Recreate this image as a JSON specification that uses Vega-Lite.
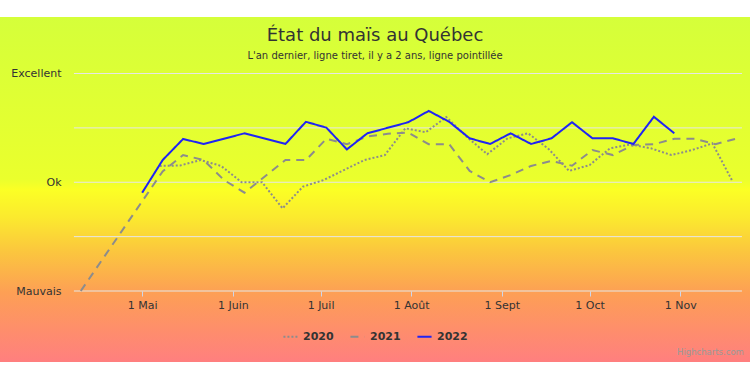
{
  "$schema": "https://vega.github.io/schema/vega-lite/v6.json",
  "width": 750,
  "height": 345,
  "autosize": {"type": "none"},
  "padding": {"top": 17, "bottom": 11, "left": 0, "right": 0},
  "background": "white",
  "view": {
    "stroke": null,
    "fill": {
      "gradient": "linear", "x1": 0, "y1": 0, "x2": 0, "y2": 1,
      "stops": [
        {"offset": 0, "color": "#d5ff3a"},
        {"offset": 0.47, "color": "#eaff2d"},
        {"offset": 0.5, "color": "#fbff25"},
        {"offset": 0.58, "color": "#fbea2e"},
        {"offset": 0.68, "color": "#fbc63e"},
        {"offset": 0.8, "color": "#fd9f55"},
        {"offset": 1, "color": "#ff7f7f"}
      ]
    }
  },
  "title": {
    "text": "État du maïs au Québec",
    "subtitle": "L'an dernier, ligne tiret, il y a 2 ans, ligne pointillée",
    "frame": "group",
    "anchor": "middle",
    "offset": -44,
    "font": "DejaVu Sans",
    "fontSize": 18,
    "fontWeight": "normal",
    "color": "#333333",
    "subtitleFont": "DejaVu Sans",
    "subtitleFontSize": 10,
    "subtitleColor": "#333333",
    "subtitlePadding": 6
  },
  "datasets": {
    "grille": [
      {"etat": 0}, {"etat": 25}, {"etat": 50}, {"etat": 75}, {"etat": 100}
    ],
    "series": [
      {"annee": "2020", "date": "2022-05-07", "etat": 57.5},
      {"annee": "2020", "date": "2022-05-14", "etat": 57.7},
      {"annee": "2020", "date": "2022-05-21", "etat": 60.2},
      {"annee": "2020", "date": "2022-05-28", "etat": 57.5},
      {"annee": "2020", "date": "2022-06-04", "etat": 50},
      {"annee": "2020", "date": "2022-06-11", "etat": 50},
      {"annee": "2020", "date": "2022-06-18", "etat": 38},
      {"annee": "2020", "date": "2022-06-25", "etat": 48},
      {"annee": "2020", "date": "2022-07-02", "etat": 51},
      {"annee": "2020", "date": "2022-07-09", "etat": 55.6},
      {"annee": "2020", "date": "2022-07-16", "etat": 60.2},
      {"annee": "2020", "date": "2022-07-23", "etat": 62.5},
      {"annee": "2020", "date": "2022-07-30", "etat": 74.8},
      {"annee": "2020", "date": "2022-08-06", "etat": 73},
      {"annee": "2020", "date": "2022-08-13", "etat": 80},
      {"annee": "2020", "date": "2022-08-20", "etat": 70.9},
      {"annee": "2020", "date": "2022-08-27", "etat": 62.9},
      {"annee": "2020", "date": "2022-09-03", "etat": 70.2},
      {"annee": "2020", "date": "2022-09-10", "etat": 72.5},
      {"annee": "2020", "date": "2022-09-17", "etat": 65.3},
      {"annee": "2020", "date": "2022-09-24", "etat": 55.2},
      {"annee": "2020", "date": "2022-10-01", "etat": 57.9},
      {"annee": "2020", "date": "2022-10-08", "etat": 65.6},
      {"annee": "2020", "date": "2022-10-15", "etat": 67.4},
      {"annee": "2020", "date": "2022-10-22", "etat": 65.6},
      {"annee": "2020", "date": "2022-10-29", "etat": 62.5},
      {"annee": "2020", "date": "2022-11-05", "etat": 64.8},
      {"annee": "2020", "date": "2022-11-12", "etat": 67.9},
      {"annee": "2020", "date": "2022-11-19", "etat": 50.2},
      {"annee": "2021", "date": "2022-04-10", "etat": 0},
      {"annee": "2021", "date": "2022-05-08", "etat": 55},
      {"annee": "2021", "date": "2022-05-15", "etat": 62.5},
      {"annee": "2021", "date": "2022-05-22", "etat": 60.2},
      {"annee": "2021", "date": "2022-05-29", "etat": 51},
      {"annee": "2021", "date": "2022-06-05", "etat": 45.2},
      {"annee": "2021", "date": "2022-06-19", "etat": 60.2},
      {"annee": "2021", "date": "2022-06-26", "etat": 60.2},
      {"annee": "2021", "date": "2022-07-03", "etat": 70},
      {"annee": "2021", "date": "2022-07-10", "etat": 67.5},
      {"annee": "2021", "date": "2022-07-17", "etat": 71},
      {"annee": "2021", "date": "2022-07-24", "etat": 72.3},
      {"annee": "2021", "date": "2022-07-31", "etat": 72.8},
      {"annee": "2021", "date": "2022-08-07", "etat": 67.5},
      {"annee": "2021", "date": "2022-08-14", "etat": 67.5},
      {"annee": "2021", "date": "2022-08-21", "etat": 55.2},
      {"annee": "2021", "date": "2022-08-28", "etat": 50},
      {"annee": "2021", "date": "2022-09-04", "etat": 53.3},
      {"annee": "2021", "date": "2022-09-11", "etat": 57.5},
      {"annee": "2021", "date": "2022-09-18", "etat": 59.8},
      {"annee": "2021", "date": "2022-09-25", "etat": 57.6},
      {"annee": "2021", "date": "2022-10-02", "etat": 64.8},
      {"annee": "2021", "date": "2022-10-09", "etat": 62.5},
      {"annee": "2021", "date": "2022-10-16", "etat": 67.1},
      {"annee": "2021", "date": "2022-10-23", "etat": 67.5},
      {"annee": "2021", "date": "2022-10-30", "etat": 70},
      {"annee": "2021", "date": "2022-11-06", "etat": 70},
      {"annee": "2021", "date": "2022-11-13", "etat": 67.5},
      {"annee": "2021", "date": "2022-11-20", "etat": 70},
      {"annee": "2022", "date": "2022-05-01", "etat": 45.2},
      {"annee": "2022", "date": "2022-05-08", "etat": 60.2},
      {"annee": "2022", "date": "2022-05-15", "etat": 69.9},
      {"annee": "2022", "date": "2022-05-22", "etat": 67.6},
      {"annee": "2022", "date": "2022-06-05", "etat": 72.5},
      {"annee": "2022", "date": "2022-06-19", "etat": 67.6},
      {"annee": "2022", "date": "2022-06-26", "etat": 77.8},
      {"annee": "2022", "date": "2022-07-03", "etat": 75.1},
      {"annee": "2022", "date": "2022-07-10", "etat": 65.1},
      {"annee": "2022", "date": "2022-07-17", "etat": 72.5},
      {"annee": "2022", "date": "2022-07-31", "etat": 77.6},
      {"annee": "2022", "date": "2022-08-07", "etat": 82.8},
      {"annee": "2022", "date": "2022-08-14", "etat": 77.8},
      {"annee": "2022", "date": "2022-08-21", "etat": 70.2},
      {"annee": "2022", "date": "2022-08-28", "etat": 67.6},
      {"annee": "2022", "date": "2022-09-04", "etat": 72.5},
      {"annee": "2022", "date": "2022-09-11", "etat": 67.6},
      {"annee": "2022", "date": "2022-09-18", "etat": 70.2},
      {"annee": "2022", "date": "2022-09-25", "etat": 77.6},
      {"annee": "2022", "date": "2022-10-02", "etat": 70.2},
      {"annee": "2022", "date": "2022-10-09", "etat": 70.2},
      {"annee": "2022", "date": "2022-10-16", "etat": 67.6},
      {"annee": "2022", "date": "2022-10-23", "etat": 80.1},
      {"annee": "2022", "date": "2022-10-30", "etat": 72.5}
    ],
    "credit": [{"texte": "Highcharts.com"}]
  },
  "layer": [
    {
      "data": {"name": "grille"},
      "mark": {"type": "rule", "color": "#e6e6e6", "strokeWidth": 1},
      "encoding": {
        "y": {
          "field": "etat", "type": "quantitative",
          "scale": {"domain": [-32.64, 125.98], "nice": false, "zero": false}
        },
        "x": {
          "datum": {"year": 2022, "month": 4, "date": 7, "hours": 16, "utc": true},
          "type": "temporal",
          "scale": {
            "type": "utc",
            "domain": [
              {"year": 2022, "month": 3, "date": 13, "hours": 9, "utc": true},
              {"year": 2022, "month": 11, "date": 24, "hours": 21, "utc": true}
            ]
          }
        },
        "x2": {"datum": {"year": 2022, "month": 11, "date": 22, "hours": 3, "utc": true}}
      }
    },
    {
      "data": {"name": "series"},
      "mark": {"type": "line", "strokeWidth": 2},
      "encoding": {
        "x": {
          "field": "date", "type": "temporal",
          "scale": {
            "type": "utc",
            "domain": [
              {"year": 2022, "month": 3, "date": 13, "hours": 9, "utc": true},
              {"year": 2022, "month": 11, "date": 24, "hours": 21, "utc": true}
            ]
          },
          "axis": {
            "title": null,
            "orient": "bottom",
            "offset": -71,
            "values": [
              {"year": 2022, "month": 5, "date": 1, "utc": true},
              {"year": 2022, "month": 6, "date": 1, "utc": true},
              {"year": 2022, "month": 7, "date": 1, "utc": true},
              {"year": 2022, "month": 8, "date": 1, "utc": true},
              {"year": 2022, "month": 9, "date": 1, "utc": true},
              {"year": 2022, "month": 10, "date": 1, "utc": true},
              {"year": 2022, "month": 11, "date": 1, "utc": true}
            ],
            "labelExpr": "'1 ' + ['Janv','Févr','Mars','Avr','Mai','Juin','Juil','Août','Sept','Oct','Nov','Déc'][utcmonth(datum.value)]",
            "domain": false,
            "grid": false,
            "ticks": true,
            "tickSize": 5,
            "tickColor": "#ccd6eb",
            "labelPadding": 3,
            "labelFont": "DejaVu Sans",
            "labelFontSize": 11,
            "labelColor": "#333333",
            "labelFlush": false,
            "labelOverlap": false
          }
        },
        "y": {
          "field": "etat", "type": "quantitative",
          "scale": {"domain": [-32.64, 125.98], "nice": false, "zero": false},
          "axis": {
            "title": null,
            "orient": "left",
            "offset": -70,
            "values": [0, 50, 100],
            "labelExpr": "datum.value == 0 ? 'Mauvais' : datum.value == 50 ? 'Ok' : 'Excellent'",
            "domain": false,
            "ticks": false,
            "tickSize": 0,
            "grid": false,
            "labelPadding": 9,
            "labelFont": "DejaVu Sans",
            "labelFontSize": 11,
            "labelColor": "#333333",
            "labelOverlap": false
          }
        },
        "color": {
          "field": "annee", "type": "nominal",
          "scale": {"domain": ["2020", "2021", "2022"], "range": ["#8c8c8c", "#8c8c8c", "#1f24f5"]},
          "legend": {
            "title": null, "orient": "none", "direction": "horizontal",
            "legendX": 282, "legendY": 311,
            "symbolType": "stroke", "symbolSize": 200, "symbolStrokeWidth": 2,
            "labelFont": "DejaVu Sans", "labelFontSize": 11, "labelFontWeight": "bold",
            "labelColor": "#333333", "labelOffset": 4, "columnPadding": 12
          }
        },
        "strokeDash": {
          "field": "annee", "type": "nominal",
          "scale": {"domain": ["2020", "2021", "2022"], "range": [[2, 2], [8, 6], [1, 0]]},
          "legend": {
            "title": null, "orient": "none", "direction": "horizontal",
            "legendX": 282, "legendY": 311,
            "symbolType": "stroke", "symbolSize": 200, "symbolStrokeWidth": 2,
            "labelFont": "DejaVu Sans", "labelFontSize": 11, "labelFontWeight": "bold",
            "labelColor": "#333333", "labelOffset": 4, "columnPadding": 12
          }
        }
      }
    },
    {
      "data": {"name": "credit"},
      "mark": {"type": "text", "align": "right", "baseline": "alphabetic", "font": "DejaVu Sans", "fontSize": 8.5, "color": "#999999"},
      "encoding": {
        "x": {
          "datum": {"year": 2022, "month": 11, "date": 22, "hours": 19, "utc": true},
          "type": "temporal",
          "scale": {
            "type": "utc",
            "domain": [
              {"year": 2022, "month": 3, "date": 13, "hours": 9, "utc": true},
              {"year": 2022, "month": 11, "date": 24, "hours": 21, "utc": true}
            ]
          }
        },
        "y": {
          "datum": -29.4, "type": "quantitative",
          "scale": {"domain": [-32.64, 125.98], "nice": false, "zero": false}
        },
        "text": {"field": "texte"}
      }
    }
  ]
}
